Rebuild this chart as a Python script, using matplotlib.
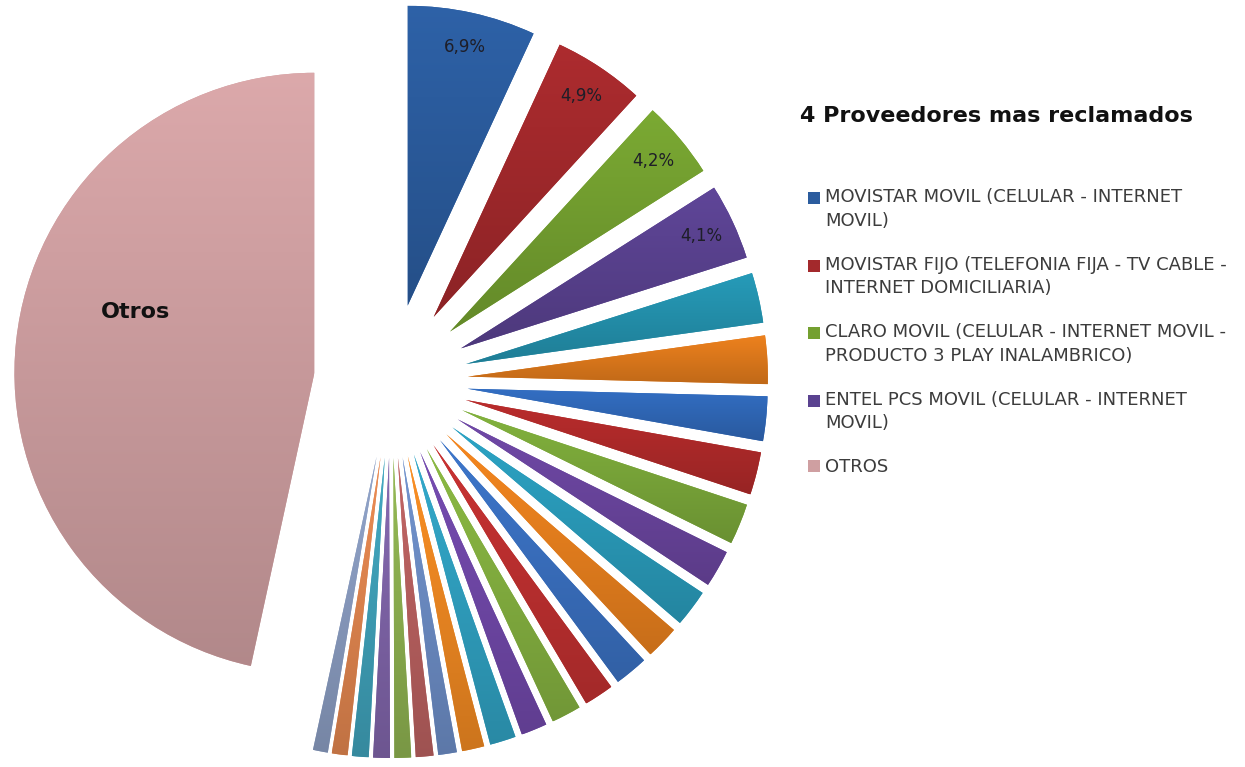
import numpy as np
import matplotlib
matplotlib.use("Agg")
import matplotlib.pyplot as plt
import matplotlib.patches as mpatches
from matplotlib.legend_handler import HandlerPatch
from matplotlib.colors import to_rgb

# ---------------- data ----------------
top_names = [
    "MOVISTAR MOVIL (CELULAR - INTERNET\nMOVIL)",
    "MOVISTAR FIJO (TELEFONIA FIJA - TV CABLE -\nINTERNET DOMICILIARIA)",
    "CLARO MOVIL (CELULAR - INTERNET MOVIL -\nPRODUCTO 3 PLAY INALAMBRICO)",
    "ENTEL PCS MOVIL (CELULAR - INTERNET\nMOVIL)",
]
otros_name = "OTROS"
top_values = [6.9, 4.9, 4.2, 4.1]
other_provider_values = [2.7, 2.6, 2.4, 2.3, 2.2, 2.0, 2.0, 1.8, 1.8, 1.6, 1.6,
                         1.4, 1.4, 1.2, 1.0, 0.95, 0.9, 0.9, 0.9, 0.85, 0.8]
otros_value = 46.6
title_text = "4 Proveedores mas reclamados"
otros_label = "Otros"

# ---------------- style ----------------
top_colors = ["#2B5C9E", "#A3292C", "#74A030", "#5A4290"]
other_colors = ["#2492AE", "#E07A1C",
                "#3068B8", "#B02A2A", "#7BA83A", "#6A459E", "#2A9BBA", "#E8801E",
                "#3A70C0", "#BE3030", "#84B040", "#7048A8", "#30A0C0", "#EE8822",
                "#6C8CC4", "#B8605F", "#8DB050", "#7F64A8", "#3FA0B8", "#E0854F",
                "#8A9CC0"]
otros_color = "#CF9FA1"

values = top_values + other_provider_values + [otros_value]
colors = top_colors + other_colors + [otros_color]

W, H = 1245, 767
fig = plt.figure(figsize=(W / 100, H / 100), dpi=100)
ax = fig.add_axes([0, 0, 1, 1])

R = 300
center = (391, H - 381)
explode = [77] * len(values)

wedges, _ = ax.pie(values, colors=colors, startangle=90, counterclock=False,
                   radius=R, center=center, explode=explode,
                   wedgeprops=dict(linewidth=0))

# soft vertical gradient inside each slice
for w, c in zip(wedges, colors):
    ext = w.get_path().get_extents()
    base = np.array(to_rgb(c))
    f = np.linspace(1.06, 0.86, 64)[:, None, None]
    grad = np.clip(f * base[None, None, :], 0, 1)
    ax.imshow(grad, extent=(ext.x0, ext.x1, ext.y0, ext.y1), origin="upper",
              aspect="auto", interpolation="bilinear", clip_path=w,
              zorder=w.get_zorder() + 0.1)

# percentage labels on the 4 main slices
for i, v in enumerate(top_values):
    w = wedges[i]
    th = np.deg2rad(0.5 * (w.theta1 + w.theta2))
    cx, cy = w.center
    ax.text(cx + 0.885 * R * np.cos(th), cy + 0.885 * R * np.sin(th),
            f"{v:.1f}".replace(".", ",") + "%", ha="center", va="center",
            fontsize=12, color="#1E1E28", zorder=10)

# "Otros" label
ax.text(136, H - 312, otros_label, ha="center", va="center", fontsize=16,
        fontweight="bold", color="#111111", zorder=10)

ax.set_xlim(0, W)
ax.set_ylim(0, H)
ax.set_aspect("equal")
ax.axis("off")

# ---------------- legend ----------------
fs = 13
pitch_pt = 23 * 0.72


def make_handler(shift):
    def patch_func(legend, orig_handle, xdescent, ydescent, width, height, fontsize):
        return mpatches.Rectangle((-xdescent, -ydescent + shift), width, height)
    return HandlerPatch(patch_func=patch_func)


handles = [wedges[i] for i in range(4)] + [wedges[-1]]
labels = top_names + [otros_name]
hmap = {h: make_handler(0.5 * pitch_pt if "\n" in l else 0.0)
        for h, l in zip(handles, labels)}
leg = fig.legend(handles, labels, loc="upper left",
                 bbox_to_anchor=(808 / W, 1 - 188 / H), frameon=False,
                 fontsize=fs, handlelength=12 / (fs / 0.72), handleheight=12 / (fs / 0.72),
                 handletextpad=5 / (fs / 0.72), borderpad=0, borderaxespad=0,
                 labelspacing=1.42, handler_map=hmap)
for t in leg.get_texts():
    t.set_color("#3C3C3C")
    t.set_linespacing(1.42)

fig.text(800 / W, 1 - 116 / H, title_text, ha="left", va="center",
         fontsize=16, fontweight="bold", color="#111111")

fig.savefig("out.png", dpi=100)
